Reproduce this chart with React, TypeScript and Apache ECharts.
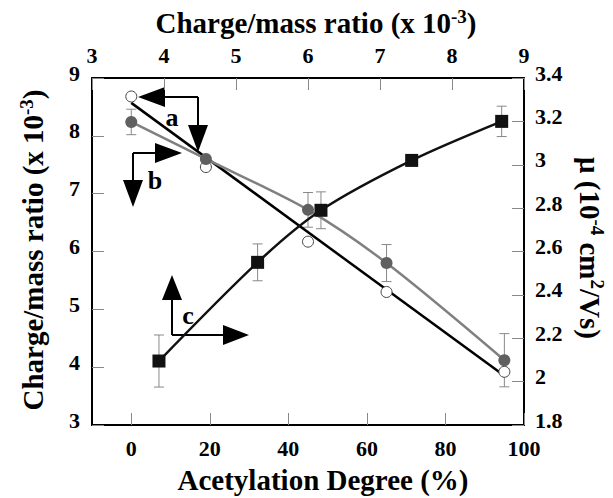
import React, { useEffect, useRef } from "react";
import * as echarts from "echarts";

// Data
const acetylation = [0, 19, 45, 65, 95];
const openRatio = [8.68, 7.46, 6.17, 5.3, 3.92];
const grayRatio = [8.24, 7.6, 6.72, 5.8, 4.12];
const grayErr = [0.22, 0, 0.3, 0.32, 0.46];
const squareRatio = [3.93, 5.3, 6.18, 7.44, 8.69];
const squareMu = [2.095, 2.55, 2.79, 3.02, 3.2];
const squareErr = [0.12, 0.085, 0.085, 0, 0.07];
const fitX = [0, 95];
const fitY = [8.57, 3.85];
const bottomTicks = [0, 20, 40, 60, 80, 100];

const FONT = "Liberation Serif";
const TICK_COLOR = "#888";

export default function App() {
  const ref = useRef<HTMLDivElement>(null);

  useEffect(() => {
    if (!ref.current) return;
    const chart = echarts.init(ref.current, undefined, { renderer: "svg" });

    const tokenBase = {
      fontFamily: FONT,
      fontWeight: "bold",
      fontSize: 22,
      color: "#000",
    };
    const fmt = (v: number) => String(parseFloat(v.toFixed(1)));
    const bottomTopLabel = (margin: number) => ({
      margin,
      fontFamily: FONT,
      fontWeight: "bold",
      fontSize: 22,
      color: "#000",
      formatter: (v: number) => "{t|" + fmt(v) + "}",
      rich: { t: { ...tokenBase } },
    });
    const sideLabel = (margin: number) => ({
      margin,
      fontFamily: FONT,
      fontWeight: "bold",
      fontSize: 22,
      color: "#000",
      formatter: (v: number) => "{t|" + fmt(v) + "}",
      rich: { t: { ...tokenBase, padding: [0, 0, 10, 0] } },
    });
    const axisLine = { show: true, onZero: false, lineStyle: { color: "#000", width: 2 } };
    const axisTick = {
      show: true,
      inside: true,
      length: 12,
      lineStyle: { color: TICK_COLOR, width: 1 },
    };

    const errRender = (params: any, api: any) => {
      const x = api.value(0);
      const y = api.value(1);
      const e = api.value(2);
      const top = api.coord([x, y + e]);
      const bot = api.coord([x, y - e]);
      const w = 5;
      const st = { stroke: "#888", lineWidth: 1 };
      return {
        type: "group",
        children: [
          { type: "line", shape: { x1: top[0], y1: top[1], x2: bot[0], y2: bot[1] }, style: st },
          { type: "line", shape: { x1: top[0] - w, y1: top[1], x2: top[0] + w, y2: top[1] }, style: st },
          { type: "line", shape: { x1: bot[0] - w, y1: bot[1], x2: bot[0] + w, y2: bot[1] }, style: st },
        ],
      };
    };

    const grayErrData = acetylation
      .map((x, i) => [x, grayRatio[i], grayErr[i]])
      .filter((d) => d[2] > 0);
    const squareErrData = squareRatio
      .map((x, i) => [x, squareMu[i], squareErr[i]])
      .filter((d) => d[2] > 0);

    const titleStyle = {
      fontFamily: FONT,
      fontWeight: "bold",
      fontSize: 29,
      fill: "#000",
      align: "center",
      verticalAlign: "middle",
      lineHeight: 33,
      rich: {
        sup: {
          fontFamily: FONT,
          fontWeight: "bold",
          fontSize: 19,
          lineHeight: 19,
          verticalAlign: "top",
        },
      },
    };

    const arrowLine = { stroke: "#000", lineWidth: 2 };
    const tri = (pts: number[][]) => ({
      type: "polygon",
      shape: { points: pts },
      style: { fill: "#000" },
    });
    const seg = (x1: number, y1: number, x2: number, y2: number) => ({
      type: "line",
      shape: { x1, y1, x2, y2 },
      style: arrowLine,
    });
    const letter = (t: string, x: number, y: number) => ({
      type: "text",
      x,
      y,
      style: {
        text: t,
        fontFamily: FONT,
        fontWeight: "bold",
        fontSize: 26,
        fill: "#000",
        align: "center",
        verticalAlign: "middle",
      },
    });

    chart.setOption({
      animation: false,
      backgroundColor: "#fff",
      textStyle: { fontFamily: FONT },
      grid: { left: 92, right: 89, top: 78, bottom: 73 },
      xAxis: [
        {
          type: "value",
          position: "bottom",
          min: -10,
          max: 100,
          axisLine,
          axisTick: { ...axisTick, customValues: bottomTicks },
          axisLabel: { ...bottomTopLabel(12), customValues: bottomTicks },
          splitLine: { show: false },
        },
        {
          type: "value",
          position: "top",
          min: 3,
          max: 9,
          interval: 1,
          axisLine,
          axisTick,
          axisLabel: bottomTopLabel(12),
          splitLine: { show: false },
        },
      ],
      yAxis: [
        {
          type: "value",
          position: "left",
          min: 3,
          max: 9,
          interval: 1,
          axisLine,
          axisTick,
          axisLabel: sideLabel(12),
          splitLine: { show: false },
        },
        {
          type: "value",
          position: "right",
          min: 1.8,
          max: 3.4,
          interval: 0.2,
          axisLine,
          axisTick,
          axisLabel: sideLabel(11),
          splitLine: { show: false },
        },
      ],
      series: [
        {
          type: "custom",
          xAxisIndex: 0,
          yAxisIndex: 0,
          z: 1,
          renderItem: errRender,
          encode: { x: 0, y: 1 },
          data: grayErrData,
        },
        {
          type: "custom",
          xAxisIndex: 1,
          yAxisIndex: 1,
          z: 1,
          renderItem: errRender,
          encode: { x: 0, y: 1 },
          data: squareErrData,
        },
        {
          type: "line",
          xAxisIndex: 0,
          yAxisIndex: 0,
          z: 2,
          showSymbol: false,
          lineStyle: { color: "#000", width: 2.5 },
          data: fitX.map((x, i) => [x, fitY[i]]),
        },
        {
          type: "scatter",
          xAxisIndex: 0,
          yAxisIndex: 0,
          z: 3,
          symbol: "circle",
          symbolSize: 11,
          itemStyle: { color: "#fff", borderColor: "#444", borderWidth: 1, opacity: 1 },
          data: acetylation.map((x, i) => [x, openRatio[i]]),
        },
        {
          type: "line",
          xAxisIndex: 0,
          yAxisIndex: 0,
          z: 4,
          smooth: 0.3,
          symbol: "circle",
          symbolSize: 12,
          itemStyle: { color: "#606060" },
          lineStyle: { color: "#808080", width: 2.5 },
          data: acetylation.map((x, i) => [x, grayRatio[i]]),
        },
        {
          type: "line",
          xAxisIndex: 1,
          yAxisIndex: 1,
          z: 4,
          smooth: 0.3,
          symbol: "rect",
          symbolSize: 13,
          itemStyle: { color: "#111" },
          lineStyle: { color: "#111", width: 2.5 },
          data: squareRatio.map((x, i) => [x, squareMu[i]]),
        },
      ],
      graphic: [
        { type: "text", x: 316, y: 23, style: { ...titleStyle, text: "Charge/mass ratio (x 10{sup|-3})" } },
        { type: "text", x: 323, y: 480, style: { ...titleStyle, text: "Acetylation Degree (%)" } },
        {
          type: "text",
          x: 33,
          y: 250,
          rotation: Math.PI / 2,
          style: { ...titleStyle, text: "Charge/mass ratio (x 10{sup|-3})" },
        },
        {
          type: "text",
          x: 590,
          y: 248,
          rotation: -Math.PI / 2,
          style: { ...titleStyle, text: "\u03bc (10{sup|-4} cm{sup|2}/Vs)" },
        },
        // arrow a
        seg(165, 97, 198, 97),
        seg(198, 97, 198, 125),
        tri([[138, 97], [165, 87], [165, 107]]),
        tri([[188, 125], [208, 125], [198, 152]]),
        letter("a", 172, 117),
        // arrow b
        seg(133, 153, 155, 153),
        seg(133, 153, 133, 180),
        tri([[182, 153], [155, 143], [155, 163]]),
        tri([[123, 180], [143, 180], [133, 207]]),
        letter("b", 155, 180),
        // arrow c
        seg(172, 335, 172, 300),
        seg(172, 335, 223, 335),
        tri([[162, 300], [182, 300], [172, 275]]),
        tri([[223, 325], [223, 345], [249, 335]]),
        letter("c", 188, 315),
      ],
    });

    return () => chart.dispose();
  }, []);

  return (
    <div
      ref={ref}
      style={{ position: "fixed", left: 0, top: 0, width: 613, height: 498, background: "#fff" }}
    />
  );
}
